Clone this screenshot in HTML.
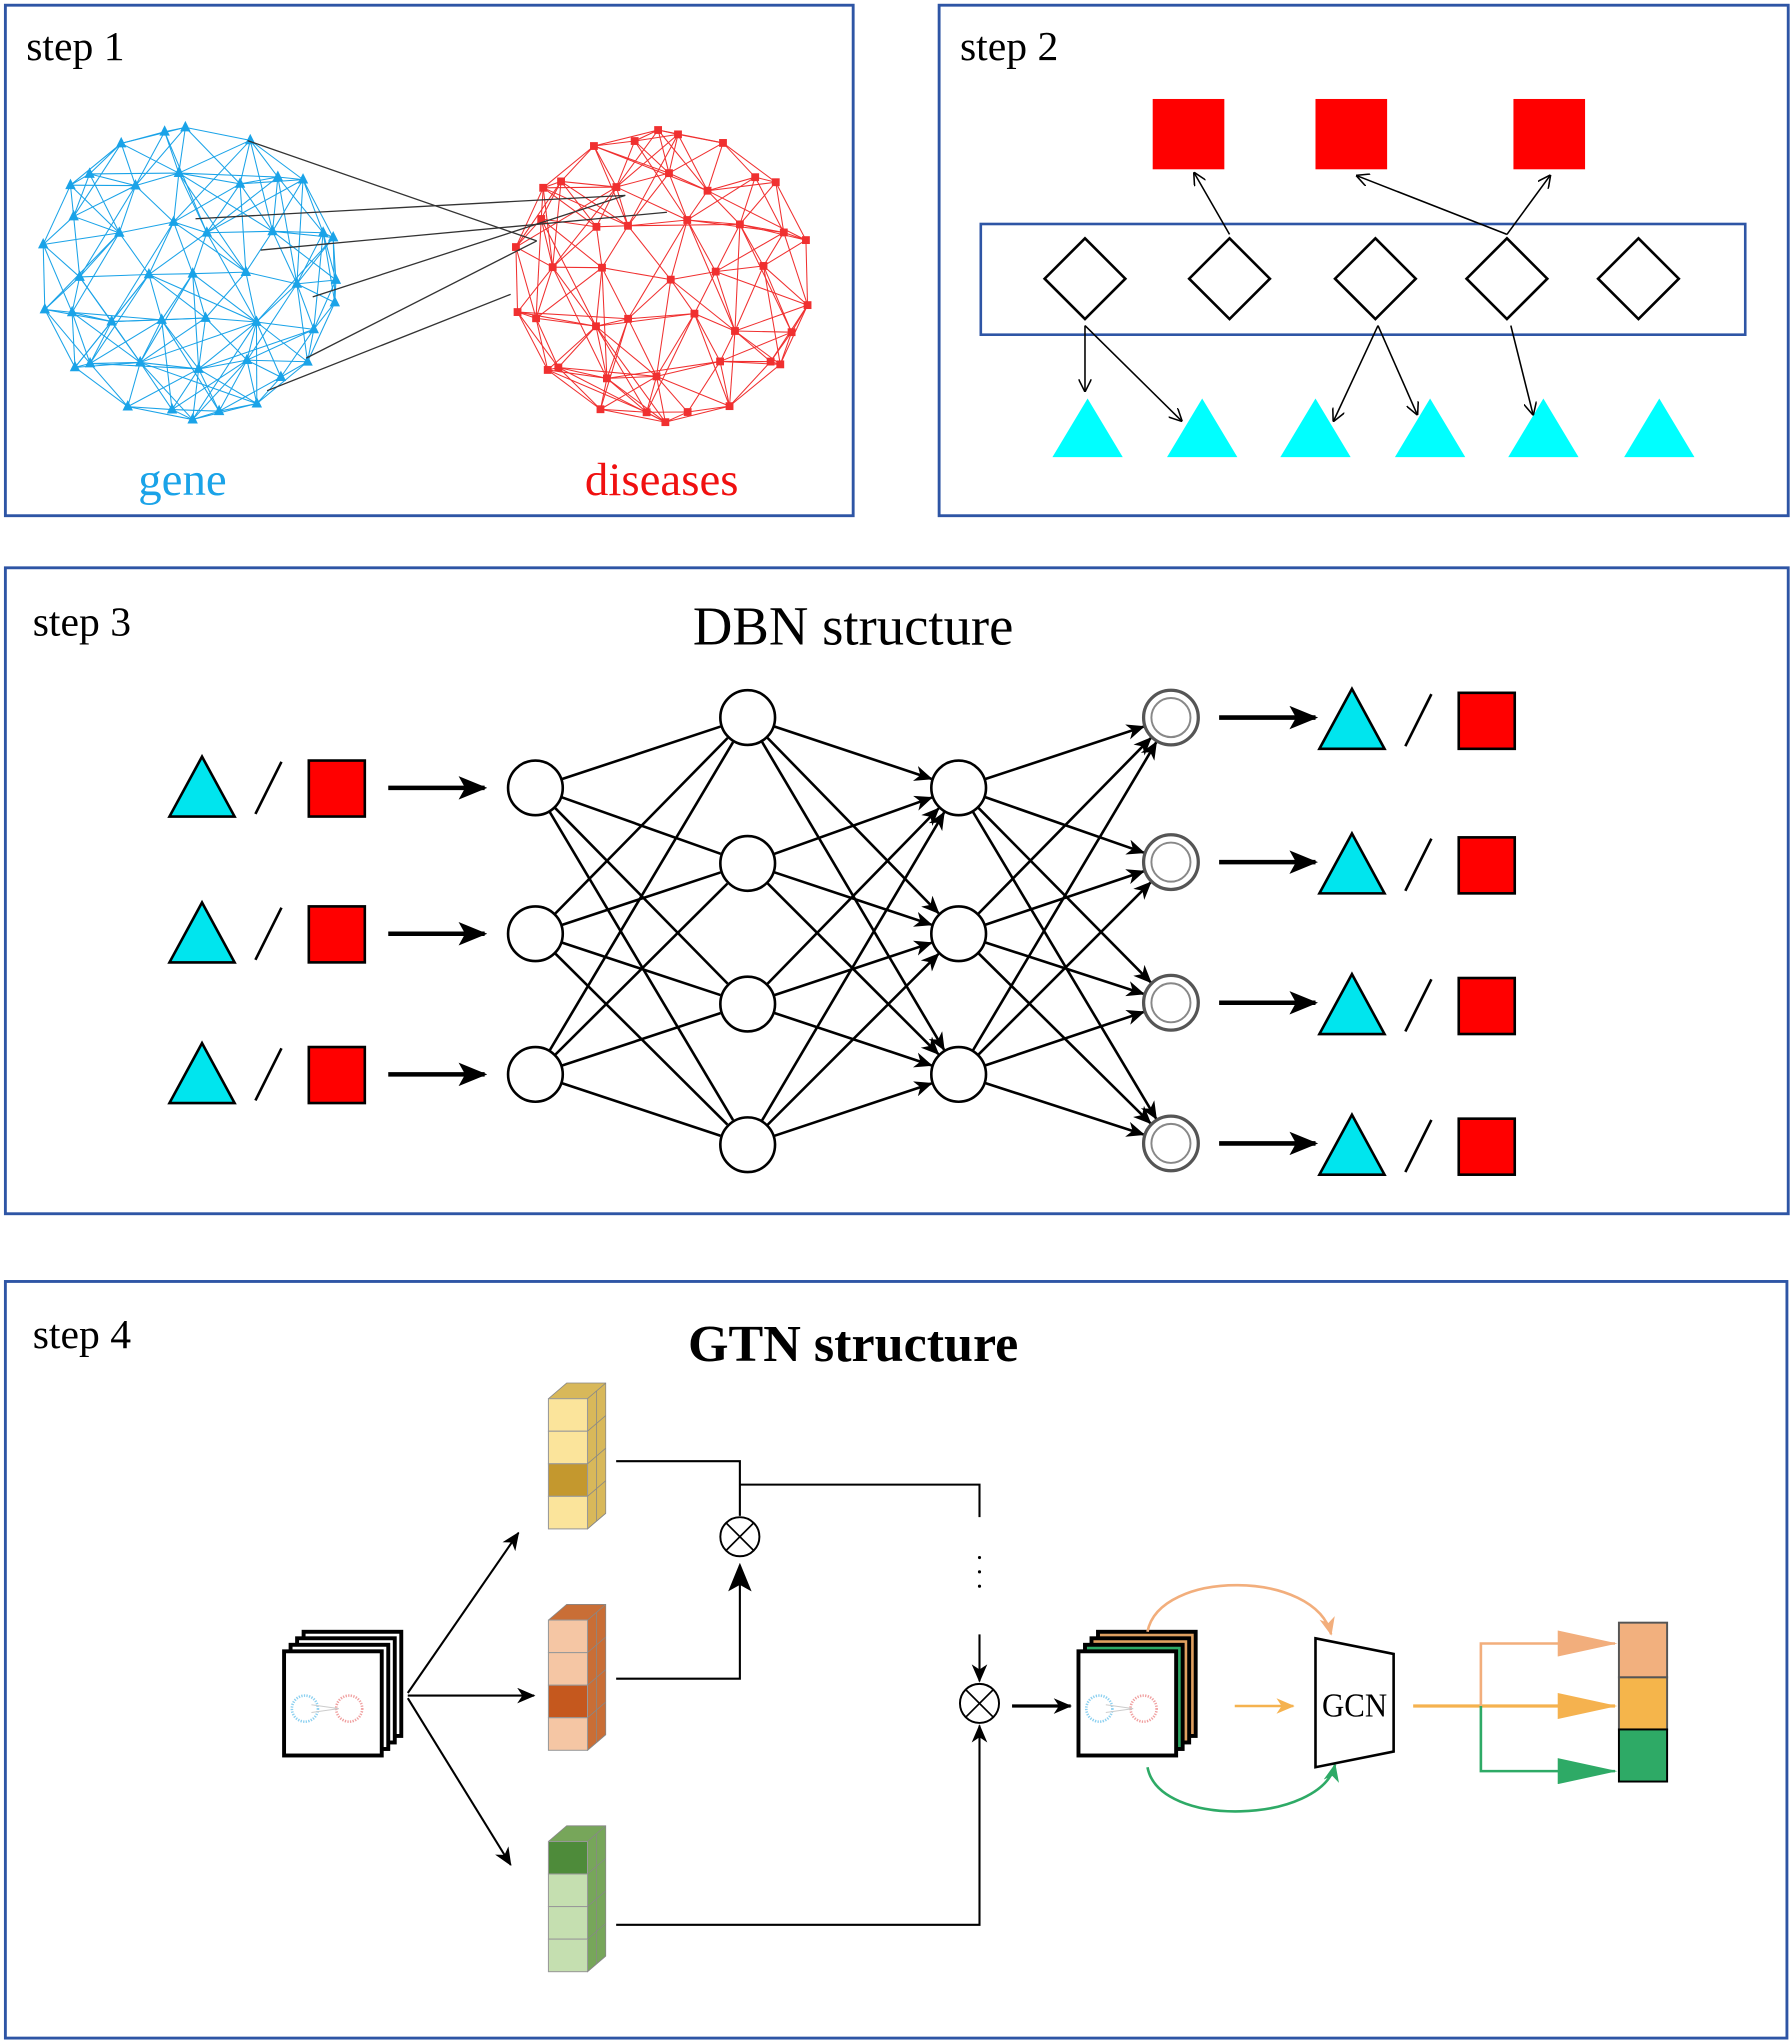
<!DOCTYPE html>
<html><head><meta charset="utf-8"><style>
html,body{margin:0;padding:0;background:#fff;}
svg{display:block;}
text{font-family:"Liberation Serif",serif;}
</style></head><body>
<svg id="s" width="1791" height="2042" viewBox="0 0 1375 1568" xmlns="http://www.w3.org/2000/svg">
<defs>
<marker id="a" markerWidth="10" markerHeight="10" refX="9" refY="5" orient="auto" markerUnits="userSpaceOnUse"><path d="M0,0 L10,5 L0,10" fill="none" stroke="#000" stroke-width="1.2"/></marker>
<marker id="af" markerWidth="14" markerHeight="12" refX="13" refY="6" orient="auto" markerUnits="userSpaceOnUse"><path d="M0,0 L14,6 L0,12 L4,6z" fill="#000"/></marker>
<marker id="ab" markerWidth="22" markerHeight="18" refX="20" refY="9" orient="auto" markerUnits="userSpaceOnUse"><path d="M0,0 L22,9 L0,18 L5,9z" fill="#000"/></marker>
<marker id="ao" markerWidth="14" markerHeight="12" refX="13" refY="6" orient="auto" markerUnits="userSpaceOnUse"><path d="M0,0 L14,6 L0,12 L4,6z" fill="#F5B24F"/></marker>
<marker id="ao2" markerWidth="14" markerHeight="12" refX="13" refY="6" orient="auto" markerUnits="userSpaceOnUse"><path d="M0,0 L14,6 L0,12 L4,6z" fill="#F2AE7C"/></marker>
<marker id="ag" markerWidth="14" markerHeight="12" refX="13" refY="6" orient="auto" markerUnits="userSpaceOnUse"><path d="M0,0 L14,6 L0,12 L4,6z" fill="#2EAA66"/></marker>
<marker id="aB" markerWidth="46" markerHeight="20" refX="44" refY="10" orient="auto" markerUnits="userSpaceOnUse"><path d="M0,0 L46,10 L0,20 z" fill="#F5B24F"/></marker>
<marker id="aB2" markerWidth="46" markerHeight="20" refX="44" refY="10" orient="auto" markerUnits="userSpaceOnUse"><path d="M0,0 L46,10 L0,20 z" fill="#F2AE7C"/></marker>
<marker id="aBg" markerWidth="46" markerHeight="20" refX="44" refY="10" orient="auto" markerUnits="userSpaceOnUse"><path d="M0,0 L46,10 L0,20 z" fill="#2EAA66"/></marker>
</defs>
<g fill="none" stroke="#2E55A5" stroke-width="2.2">
<rect x="4" y="4" width="651" height="392"/>
<rect x="721" y="4" width="652" height="392"/>
<rect x="4" y="436" width="1369" height="496"/>
<rect x="4" y="984" width="1368" height="581"/>
</g>
<text x="20" y="46" font-size="32">step 1</text>
<text x="737" y="46" font-size="32">step 2</text>
<text x="25" y="488" font-size="32">step 3</text>
<text x="25" y="1035" font-size="32">step 4</text>
<g id="net"></g>
<text x="140" y="380" font-size="36" fill="#1AA3E8" text-anchor="middle">gene</text>
<text x="508" y="380" font-size="36" fill="#F01010" text-anchor="middle">diseases</text>

<g fill="#FF0000"><rect x="885" y="76" width="55" height="54"/><rect x="1010" y="76" width="55" height="54"/><rect x="1162" y="76" width="55" height="54"/></g>
<rect x="753" y="172" width="587" height="85" fill="none" stroke="#2E55A5" stroke-width="2"/>
<g fill="none" stroke="#000" stroke-width="2">
<path d="M833,183 L864,214 L833,245 L802,214z"/><path d="M944,183 L975,214 L944,245 L913,214z"/><path d="M1056,183 L1087,214 L1056,245 L1025,214z"/><path d="M1157,183 L1188,214 L1157,245 L1126,214z"/><path d="M1258,183 L1289,214 L1258,245 L1227,214z"/>
</g>
<g fill="#00FFFF"><path d="M835,306 L862,351 L808,351z"/><path d="M923,306 L950,351 L896,351z"/><path d="M1010,306 L1037,351 L983,351z"/><path d="M1098,306 L1125,351 L1071,351z"/><path d="M1185,306 L1212,351 L1158,351z"/><path d="M1274,306 L1301,351 L1247,351z"/></g>
<g stroke="#000" stroke-width="1.2" marker-end="url(#a)">
<line x1="944" y1="180" x2="917" y2="133"/><line x1="1157" y1="180" x2="1042" y2="135"/><line x1="1157" y1="180" x2="1190" y2="135"/>
<line x1="833" y1="250" x2="833" y2="300"/><line x1="833" y1="250" x2="907" y2="323"/><line x1="1058" y1="250" x2="1024" y2="323"/><line x1="1058" y1="250" x2="1088" y2="318"/><line x1="1160" y1="250" x2="1177" y2="318"/>
</g>

<text x="655" y="495" font-size="42" text-anchor="middle">DBN structure</text>
<g id="dbn"></g>

<text x="655" y="1045" font-size="40" font-weight="bold" text-anchor="middle">GTN structure</text>
<g id="gtn"></g>
</svg>
<script>
var NS="http://www.w3.org/2000/svg";
function el(p,t,a){var e=document.createElementNS(NS,t);for(var k in a)e.setAttribute(k,a[k]);p.appendChild(e);return e;}
var net=document.getElementById('net');
var seed=11;function rnd(){seed=(seed*16807)%2147483647;return seed/2147483647;}
function cluster(cx,cy,rx,ry,col,tri){
 var pts=[];var sp=38;
 for(var gy=-3;gy<=3;gy++)for(var gx=-4;gx<=4;gx++){
  var x=gx*sp+(gy%2?sp/2:0),y=gy*sp*0.95;
  var px=x+(rnd()-0.5)*16,py=y+(rnd()-0.5)*16;
  if((px*px)/(rx*rx)+(py*py)/(ry*ry)<=1.02)pts.push([cx+px,cy+py]);}
 for(var i=0;i<14;i++){var an=i/14*Math.PI*2+0.2;pts.push([cx+Math.cos(an)*rx*1.02,cy+Math.sin(an)*ry*1.02]);}
 for(var i=0;i<pts.length;i++)for(var j=i+1;j<pts.length;j++){var dx=pts[i][0]-pts[j][0],dy=pts[i][1]-pts[j][1];var dd=Math.sqrt(dx*dx+dy*dy);if(dd<62||(dd<95&&rnd()<0.25))el(net,'line',{x1:pts[i][0],y1:pts[i][1],x2:pts[j][0],y2:pts[j][1],stroke:col,'stroke-width':0.8});}
 pts.forEach(function(p){if(tri)el(net,'path',{d:'M'+p[0]+','+(p[1]-5)+' l4,8 l-8,0z',fill:col});else el(net,'rect',{x:p[0]-3,y:p[1]-3,width:6,height:6,fill:col});});
 return pts;}
cluster(145,210,112,110,'#1AA3E8',true);
cluster(508,212,112,110,'#F03030',false);
[[190,108,412,185],[150,168,480,150],[200,192,512,163],[240,228,480,150],[205,300,392,226],[235,275,412,185]].forEach(function(l){el(net,'line',{x1:l[0],y1:l[1],x2:l[2],y2:l[3],stroke:'#333','stroke-width':1});});

var d=document.getElementById('dbn');
var L1=[605,717,825],L2=[551,663,771,879],L3=[605,717,825],L4=[551,662,770,878];
function edges(xa,ya,xb,yb,arr){ya.forEach(function(y1){yb.forEach(function(y2){var dx=xb-xa,dy=y2-y1,len=Math.sqrt(dx*dx+dy*dy),ux=dx/len,uy=dy/len;var a={x1:xa+ux*21,y1:y1+uy*21,x2:xb-ux*22,y2:y2-uy*22,stroke:'#000','stroke-width':2};if(arr)a['marker-end']='url(#af)';el(d,'line',a);});});}
edges(411,L1,574,L2,false);edges(574,L2,736,L3,true);edges(736,L3,899,L4,true);
L1.forEach(function(y){el(d,'circle',{cx:411,cy:y,r:21,fill:'#fff',stroke:'#000','stroke-width':2});});
L2.forEach(function(y){el(d,'circle',{cx:574,cy:y,r:21,fill:'#fff',stroke:'#000','stroke-width':2});});
L3.forEach(function(y){el(d,'circle',{cx:736,cy:y,r:21,fill:'#fff',stroke:'#000','stroke-width':2});});
L4.forEach(function(y){el(d,'circle',{cx:899,cy:y,r:21,fill:'#fff',stroke:'#555','stroke-width':2.5});el(d,'circle',{cx:899,cy:y,r:15,fill:'#fff',stroke:'#888','stroke-width':1.5});});
function tsq(x,y){el(d,'path',{d:'M'+(x+25)+','+(y-24)+' l25,46 l-50,0z',fill:'#00E5EE',stroke:'#000','stroke-width':2});
 el(d,'line',{x1:x+66,y1:y+20,x2:x+86,y2:y-20,stroke:'#000','stroke-width':2});
 el(d,'rect',{x:x+107,y:y-21,width:43,height:43,fill:'#FF0000',stroke:'#000','stroke-width':2});}
L1.forEach(function(y){tsq(130,y);el(d,'line',{x1:298,y1:y,x2:372,y2:y,stroke:'#000','stroke-width':3.5,'marker-end':'url(#ab)'});});
L4.forEach(function(y){tsq(1013,y+2);el(d,'line',{x1:936,y1:y,x2:1010,y2:y,stroke:'#000','stroke-width':3.5,'marker-end':'url(#ab)'});});

var g=document.getElementById('gtn');
function block(x,y,light,dark,side,darkIdx){
 el(g,'path',{d:'M'+x+','+(y+12)+' l14,-12 l30,0 l0,100 l-14,12z',fill:side,stroke:'#888','stroke-width':0.6});
 for(var i=0;i<4;i++){el(g,'rect',{x:x,y:y+12+i*25,width:30,height:25,fill:i==darkIdx?dark:light,stroke:'#999','stroke-width':0.8});}
 for(var i=0;i<5;i++)el(g,'line',{x1:x+30,y1:y+12+i*25,x2:x+44,y2:y+i*25,stroke:'#888','stroke-width':0.6});
 el(g,'line',{x1:x+37,y1:y+6,x2:x+37,y2:y+106,stroke:'#888','stroke-width':0.6});
}
block(421,1062,'#FBE49B','#C4982E','#D8B85A',2);
block(421,1232,'#F5C6A4','#C5581E','#C96E36',2);
block(421,1402,'#C5DFB0','#4E8B3A','#77A65A',0);
function stack(x,y,colors){
 for(var i=3;i>=0;i--){el(g,'rect',{x:x+i*5,y:y-i*5,width:75,height:80,fill:i==0?'#fff':colors[i-1]||'#fff',stroke:'#000','stroke-width':3});}
}
function pic(x,y){
 el(g,'circle',{cx:x,cy:y,r:10,fill:'none',stroke:'#8CD0F0','stroke-width':2,'stroke-dasharray':'1 1'});
 el(g,'circle',{cx:x+34,cy:y,r:10,fill:'none',stroke:'#F0A0A0','stroke-width':2,'stroke-dasharray':'1 1'});
 el(g,'line',{x1:x+5,y1:y-3,x2:x+26,y2:y,stroke:'#ccc','stroke-width':0.8});
 el(g,'line',{x1:x+5,y1:y+3,x2:x+26,y2:y,stroke:'#ccc','stroke-width':0.8});}
stack(218,1268,['#fff','#fff','#fff']);pic(234,1312);
stack(828,1268,['#2EAA66','#E0A060','#E0A060']);pic(844,1312);
function ln(a,m){var o={d:a,fill:'none',stroke:'#000','stroke-width':1.6};if(m)o['marker-end']=m;el(g,'path',o);}
ln('M313,1300 L398,1177','url(#af)');ln('M313,1302 L410,1302','url(#af)');ln('M313,1304 L392,1432','url(#af)');
ln('M473,1122 L568,1122 L568,1164');ln('M568,1140 L752,1140 L752,1165');
ln('M473,1289 L568,1289 L568,1202','url(#ab)');
ln('M473,1478 L752,1478 L752,1325','url(#af)');
ln('M752,1255 L752,1291','url(#af)');
[1196,1207,1218].forEach(function(y){el(g,'circle',{cx:752,cy:y,r:1.2,fill:'#000'});});
function otimes(cx,cy){el(g,'circle',{cx:cx,cy:cy,r:15,fill:'#fff',stroke:'#000','stroke-width':1.5});el(g,'path',{d:'M'+(cx-10.6)+','+(cy-10.6)+' l21.2,21.2 M'+(cx+10.6)+','+(cy-10.6)+' l-21.2,21.2',stroke:'#000','stroke-width':1.3});}
otimes(568,1180);otimes(752,1308);
el(g,'line',{x1:777,y1:1310,x2:822,y2:1310,stroke:'#000','stroke-width':2.5,'marker-end':'url(#af)'});
el(g,'path',{d:'M881,1253 C890,1205 1010,1205 1022,1255',fill:'none',stroke:'#F2AE7C','stroke-width':2,'marker-end':'url(#ao2)'});
el(g,'path',{d:'M881,1357 C890,1405 1015,1400 1025,1355',fill:'none',stroke:'#2EAA66','stroke-width':2,'marker-end':'url(#ag)'});
el(g,'line',{x1:948,y1:1310,x2:993,y2:1310,stroke:'#F5B24F','stroke-width':2,'marker-end':'url(#ao)'});
el(g,'path',{d:'M1010,1258 L1070,1270 L1070,1345 L1010,1357z',fill:'#fff',stroke:'#000','stroke-width':2});
var t=el(g,'text',{x:1040,y:1318,'font-size':26,'text-anchor':'middle',textLength:50,lengthAdjust:'spacingAndGlyphs'});t.textContent='GCN';
el(g,'line',{x1:1085,y1:1310,x2:1240,y2:1310,stroke:'#F5B24F','stroke-width':2.5,'marker-end':'url(#aB)'});
el(g,'path',{d:'M1137,1310 L1137,1262 L1240,1262',fill:'none',stroke:'#F2AE7C','stroke-width':2,'marker-end':'url(#aB2)'});
el(g,'path',{d:'M1137,1310 L1137,1360 L1240,1360',fill:'none',stroke:'#2EAA66','stroke-width':2,'marker-end':'url(#aBg)'});
el(g,'rect',{x:1243,y:1246,width:37,height:42,fill:'#F2B07E',stroke:'#555','stroke-width':1.5});
el(g,'rect',{x:1243,y:1288,width:37,height:40,fill:'#F5B54B',stroke:'#555','stroke-width':1.5});
el(g,'rect',{x:1243,y:1328,width:37,height:40,fill:'#2EAA66',stroke:'#000','stroke-width':1.5});
</script>
</body></html>
